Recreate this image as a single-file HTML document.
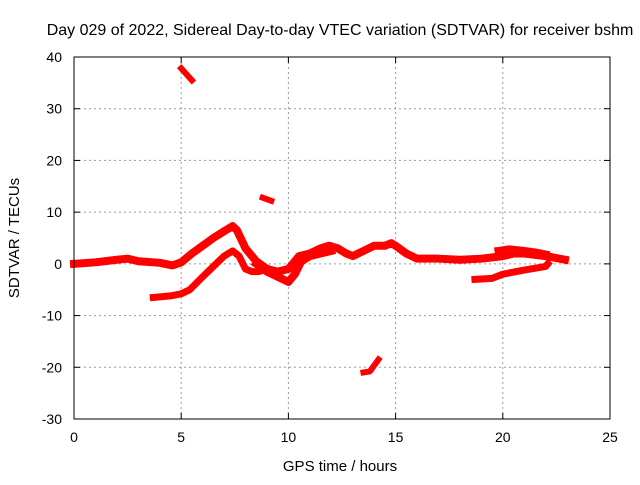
<!DOCTYPE html>
<html><head><meta charset="utf-8"><style>
body{margin:0;background:#fff;}
svg text{font-family:"Liberation Sans",sans-serif;font-size:14px;fill:#000;}
</style></head><body>
<svg id="chart" width="640" height="480">
<text x="340" y="35" text-anchor="middle" style="font-size:16px">Day 029 of 2022, Sidereal Day-to-day VTEC variation (SDTVAR) for receiver bshm</text>
<text x="340" y="471" text-anchor="middle" style="font-size:15px">GPS time / hours</text>
<text transform="translate(19,238) rotate(-90)" text-anchor="middle" style="font-size:15px">SDTVAR / TECUs</text>
<g id="grid"></g><g id="ticks"></g><g id="series"></g>
<rect x="74" y="57" width="536" height="362" fill="none" stroke="#000" stroke-width="1"/>
</svg>
<script>
const xTicks=[0,5,10,15,20,25];
const yTicks=[-30,-20,-10,0,10,20,30,40];
const mainH=[0,1,2,2.5,3,4,4.6,5,5.5,6,6.5,7,7.4,7.6,8,8.5,9,9.5,10,10.3,10.5,11,11.5,11.9,12.3,12.7,13,13.5,14,14.5,14.8,15,15.5,16,17,18,19,20,20.5,21,22,22.9];
const mainV=[0,0.3,0.8,1,0.5,0.2,-0.3,0.3,2,3.5,5,6.3,7.3,6.5,3,0.5,-1,-1.5,-1,0.5,1.5,2,3,3.5,3,2,1.5,2.5,3.5,3.5,4,3.5,2,1,1,0.8,1,1.5,2,2,1.5,0.8];
const dipH=[8.5,9,9.5,10,10.3,10.6,11,11.5,12];
const dipV=[0,-1.5,-2.5,-3.5,-2,0.5,1.5,2,2.5];
const upH=[19.8,20.3,21,21.5,22];
const upV=[2.5,2.8,2.5,2.2,1.8];
const lowH=[3.7,4.5,5,5.4,6,6.5,7,7.4,7.7,8,8.3,8.6,9];
const lowV=[-6.5,-6.2,-5.8,-5,-2.5,-0.5,1.5,2.5,1.5,-1,-1.5,-1.5,-1];
const eveH=[18.7,19.5,20,21,22,22.1];
const eveV=[-3,-2.8,-2,-1.2,-0.5,0];
const hiH=[5,5.5];const hiV=[37.8,35.5];
const midH=[8.8,9.2];const midV=[12.8,12.2];
const negH=[13.5,13.8,14.2];const negV=[-21,-20.8,-18.5];
const X=h=>74+h*536/25, Y=v=>57+(40-v)*362/70;
const NS='http://www.w3.org/2000/svg';
const grid=document.getElementById('grid'),ticks=document.getElementById('ticks'),ser=document.getElementById('series');
function mk(tag,attrs,parent){const e=document.createElementNS(NS,tag);for(const k in attrs)e.setAttribute(k,attrs[k]);parent.appendChild(e);return e;}
xTicks.forEach(t=>{
 if(t>0&&t<25){const g=mk('line',{x1:X(t),x2:X(t),y1:57,y2:419,stroke:'#999','stroke-dasharray':'2,3'},grid);
 
 }
 mk('line',{x1:X(t),x2:X(t),y1:419,y2:413,stroke:'#000'},ticks);
 mk('line',{x1:X(t),x2:X(t),y1:57,y2:63,stroke:'#000'},ticks);
 const l=mk('text',{x:X(t),y:442,'text-anchor':'middle'},ticks);l.textContent=t;
 
 
});
yTicks.forEach(t=>{
 if(t>-30&&t<40){const g=mk('line',{x1:74,x2:610,y1:Y(t),y2:Y(t),stroke:'#999','stroke-dasharray':'2,3'},grid);
 
 }
 mk('line',{x1:74,x2:80,y1:Y(t),y2:Y(t),stroke:'#000'},ticks);
 mk('line',{x1:610,x2:604,y1:Y(t),y2:Y(t),stroke:'#000'},ticks);
 const l=mk('text',{x:62,y:Y(t)+5,'text-anchor':'end'},ticks);l.textContent=t;
 
 
});
function line(hs,vs,w,name){
 const p=mk('polyline',{points:hs.map((h,i)=>X(h)+','+Y(vs[i])).join(' '),fill:'none',stroke:'#f00','stroke-width':w,'stroke-linejoin':'round','stroke-linecap':'square'},ser);
 
 
}
line(mainH,mainV,8,'main-series');
line(dipH,dipV,8,'dip-series');
line(upH,upV,8,'upper-band-series');
line(lowH,lowV,7,'lower-series');
line(eveH,eveV,7,'evening-series');
line(hiH,hiV,6,'high-fragment');
line(midH,midV,6,'mid-fragment');
line(negH,negV,6,'negative-fragment');
</script>
</body></html>
